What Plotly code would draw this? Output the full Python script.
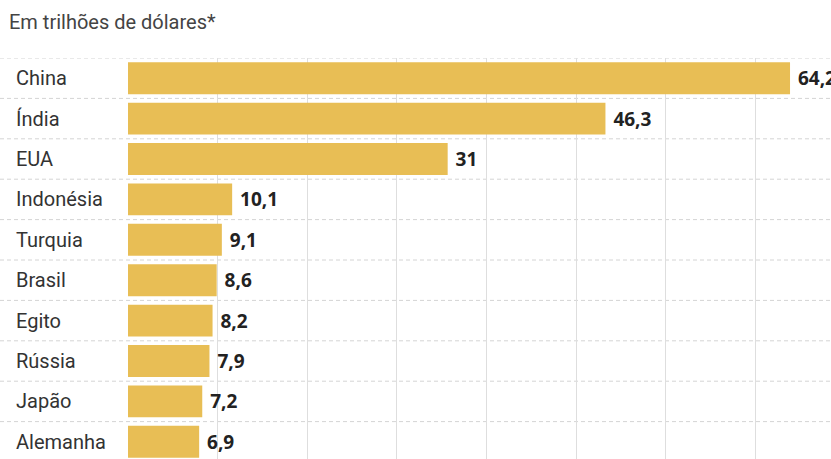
import plotly.graph_objects as go

countries = ["China", "Índia", "EUA", "Indonésia", "Turquia", "Brasil", "Egito", "Rússia", "Japão", "Alemanha"]
values = [64.2, 46.3, 31, 10.1, 9.1, 8.6, 8.2, 7.9, 7.2, 6.9]
title_text = "Em trilhões de dólares*"

W, H = 831, 459
ML, MT = 128, 58
plot_w = W - ML
plot_h = H - MT
px_per_unit = 10.312
row_px = 40.4

positions = list(range(len(countries)))
labels = ["\u00a0" + (f"{v:g}".replace(".", ",")) for v in values]

fig = go.Figure()
fig.add_trace(go.Bar(
    x=values, y=positions, orientation="h",
    marker=dict(color="#E8BE55", line=dict(width=0)),
    width=0.79,
    text=labels, textposition="outside", cliponaxis=False,
    textfont=dict(family="Open Sans", size=19, color="#222222", weight="bold"),
    hoverinfo="skip",
))

# dashed separators between categories
shapes = []
for i in range(len(countries) + 1):
    shapes.append(dict(type="line", xref="paper", yref="y",
                       x0=-ML / plot_w, x1=1, y0=i - 0.5, y1=i - 0.5,
                       line=dict(color="#d4d4d4", width=1, dash="4px,3px"),
                       layer="below"))

annotations = []
for i, c in enumerate(countries):
    annotations.append(dict(text=c, xref="paper", yref="y", x=(14 - ML) / plot_w, y=i,
                            xanchor="left", yanchor="middle", showarrow=False,
                            font=dict(family="Roboto", size=20, color="#333333")))
annotations.append(dict(text=title_text, xref="paper", yref="paper",
                        x=(7 - ML) / plot_w, y=1 + (MT - 22) / plot_h,
                        xanchor="left", yanchor="middle", showarrow=False,
                        font=dict(family="Roboto", size=20, color="#444444")))

fig.update_layout(
    width=W, height=H,
    margin=dict(l=ML, r=0, t=MT, b=0, pad=0),
    paper_bgcolor="white", plot_bgcolor="white",
    showlegend=False,
    xaxis=dict(range=[0, plot_w / px_per_unit], showgrid=True, gridcolor="#dedede", gridwidth=1,
               tick0=0, dtick=8.69, showticklabels=False, ticks="", zeroline=False,
               showline=False, fixedrange=True),
    yaxis=dict(range=[-0.5 + plot_h / row_px, -0.5], showgrid=False, showticklabels=False,
               ticks="", zeroline=False, showline=False, fixedrange=True),
    shapes=shapes, annotations=annotations,
)

fig.write_html("out.html")
